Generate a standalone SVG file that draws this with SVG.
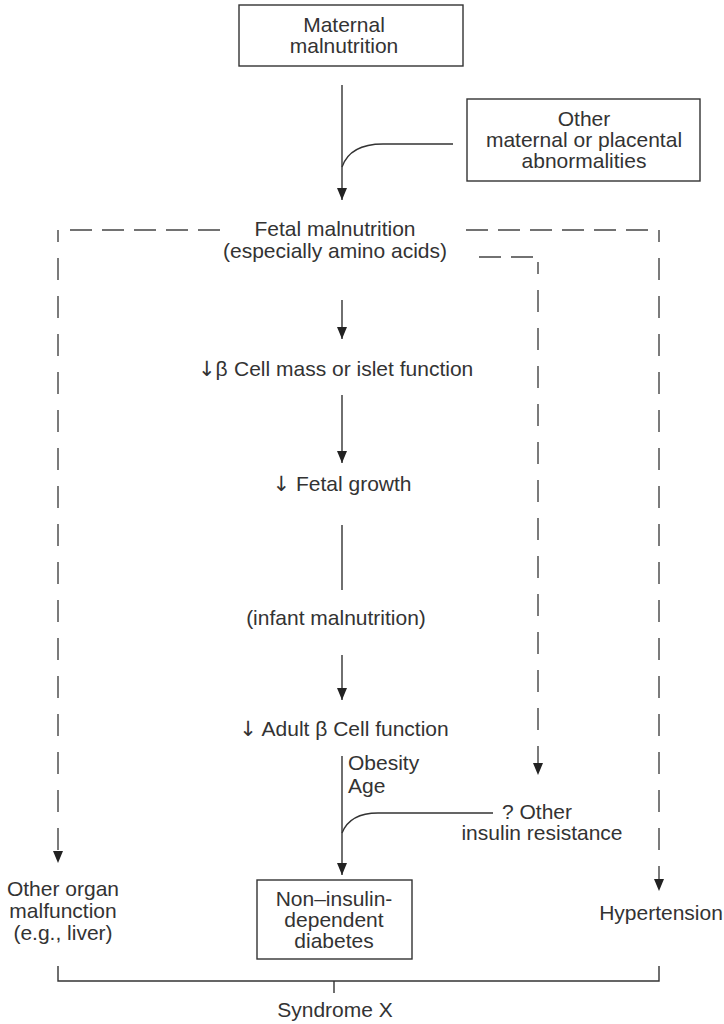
<svg xmlns="http://www.w3.org/2000/svg" width="724" height="1024" viewBox="0 0 724 1024">
<style>
text{font-family:"Liberation Sans",Arial,sans-serif;font-size:21px;fill:#333;text-anchor:middle}
.l{text-anchor:start}
.ar{font-family:"DejaVu Sans",sans-serif}
.box{fill:#fff;stroke:#333;stroke-width:1.4}
.ln{fill:none;stroke:#333;stroke-width:1.4}
.d{fill:none;stroke:#444;stroke-width:1.4;stroke-dasharray:22 10}
.dv{fill:none;stroke:#444;stroke-width:1.4;stroke-dasharray:22 16;stroke-dashoffset:10}
</style>
<defs>
<marker id="a" viewBox="0 0 12 10" refX="12" refY="5" markerWidth="12" markerHeight="10" markerUnits="userSpaceOnUse" orient="auto">
<path d="M0,0 L12,5 L0,10 Z" fill="#222"/>
</marker>
</defs>
<g id="connectors">
<path class="ln" d="M342,85 V200" marker-end="url(#a)"/>
<path class="ln" d="M453,144 H383 Q350,144 342,167"/>
<path class="ln" d="M342,300 V339" marker-end="url(#a)"/>
<path class="ln" d="M342,395 V463" marker-end="url(#a)"/>
<path class="ln" d="M342,525 V590"/>
<path class="ln" d="M342,655 V700" marker-end="url(#a)"/>
<path class="ln" d="M342,756 V875" marker-end="url(#a)"/>
<path class="ln" d="M493,813 H378 Q350,813 342,833"/>
<path class="d" d="M70,230 H220"/>
<path class="d" d="M466,230 H650"/>
<path class="dv" d="M58,230 V863" marker-end="url(#a)"/>
<path class="dv" d="M659,230 V891" marker-end="url(#a)"/>
<path class="d" d="M479,257 H534"/>
<path class="dv" d="M538,262 V775" marker-end="url(#a)"/>
<path class="ln" d="M58,966 V981 H659 V966"/>
<path class="ln" d="M334,981 V993"/>
</g>
<g id="maternal">
<rect class="box" x="239" y="5" width="224" height="61"/>
<text x="344" y="32">Maternal</text>
<text x="344" y="53">malnutrition</text>
</g>
<g id="other-abn">
<rect class="box" x="467" y="99" width="233" height="82"/>
<text x="584" y="126">Other</text>
<text x="584" y="147">maternal or placental</text>
<text x="584" y="168">abnormalities</text>
</g>
<g id="fetal">
<text x="335" y="236">Fetal malnutrition</text>
<text x="335" y="258">(especially amino acids)</text>
</g>
<g id="beta">
<text class="l" x="198" y="376"><tspan class="ar">↓</tspan>β<tspan x="234">Cell mass or islet function</tspan></text>
</g>
<g id="growth">
<text x="342" y="491"><tspan class="ar">↓</tspan> Fetal growth</text>
</g>
<g id="infant">
<text x="336" y="625">(infant malnutrition)</text>
</g>
<g id="adult">
<text x="344" y="736"><tspan class="ar">↓</tspan> Adult β Cell function</text>
</g>
<g id="obesity">
<text class="l" x="348" y="770">Obesity</text>
<text class="l" x="348" y="793">Age</text>
</g>
<g id="insulin-res">
<text x="537" y="819">? Other</text>
<text x="542" y="840">insulin resistance</text>
</g>
<g id="organ">
<text x="63" y="896">Other organ</text>
<text x="63" y="918">malfunction</text>
<text x="63" y="940">(e.g., liver)</text>
</g>
<g id="niddm">
<rect class="box" x="257" y="880" width="155" height="79"/>
<text x="334" y="906">Non–insulin-</text>
<text x="334" y="927">dependent</text>
<text x="334" y="948">diabetes</text>
</g>
<g id="hypertension">
<text x="661" y="920">Hypertension</text>
</g>
<g id="syndrome">
<text x="335" y="1017">Syndrome X</text>
</g>
</svg>
